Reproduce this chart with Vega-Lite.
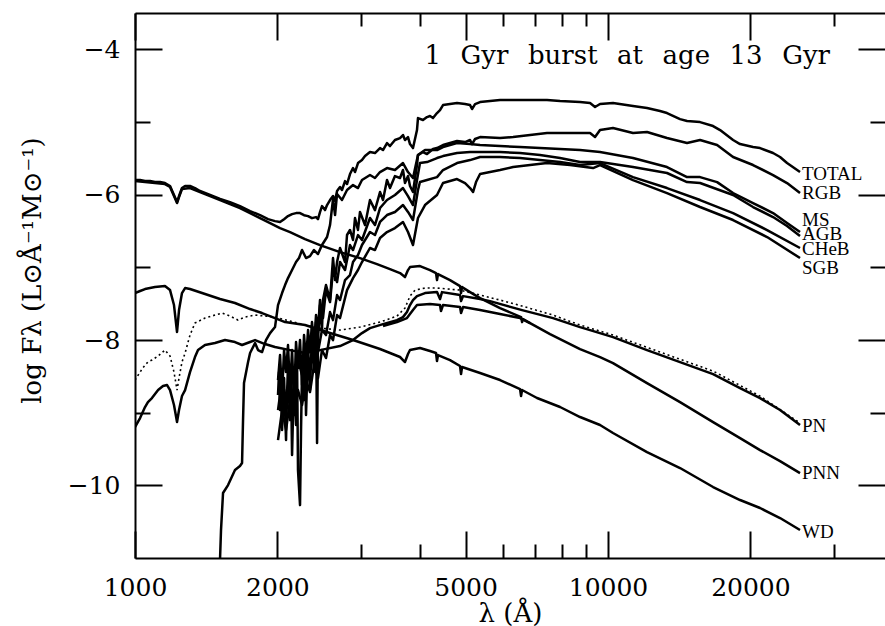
{
"$schema": "https://vega.github.io/schema/vega-lite/v6.json",
"width": 750, "height": 545,
"autosize": {"type": "none"},
"padding": {"left": 135, "top": 13, "right": 0, "bottom": 68},
"background": "white",
"config": {"view": {"stroke": null},
 "axis": {"grid": false, "labelFlush": false, "labelOverlap": false, "tickColor": "black", "domainColor": "black", "labelColor": "black", "titleColor": "black", "tickWidth": 2, "domainWidth": 2, "labelFont": "DejaVu Serif", "labelFontSize": 25, "titleFont": "DejaVu Serif", "titleFontSize": 26, "titleFontWeight": "normal"}},
"datasets": {
"spectra": [
{"s":"TOTAL","lam":1000,"logF":-5.799},{"s":"TOTAL","lam":1025,"logF":-5.799},{"s":"TOTAL","lam":1050,"logF":-5.813},{"s":"TOTAL","lam":1076,"logF":-5.813},{"s":"TOTAL","lam":1102,"logF":-5.826},{"s":"TOTAL","lam":1130,"logF":-5.826},{"s":"TOTAL","lam":1157,"logF":-5.84},{"s":"TOTAL","lam":1186,"logF":-5.881},{"s":"TOTAL","lam":1209,"logF":-6.005},{"s":"TOTAL","lam":1227,"logF":-6.102},{"s":"TOTAL","lam":1239,"logF":-6.019},{"s":"TOTAL","lam":1257,"logF":-5.909},{"s":"TOTAL","lam":1276,"logF":-5.881},{"s":"TOTAL","lam":1307,"logF":-5.881},{"s":"TOTAL","lam":1339,"logF":-5.909},{"s":"TOTAL","lam":1372,"logF":-5.95},{"s":"TOTAL","lam":1441,"logF":-6.005},{"s":"TOTAL","lam":1513,"logF":-6.06},{"s":"TOTAL","lam":1588,"logF":-6.102},{"s":"TOTAL","lam":1667,"logF":-6.157},{"s":"TOTAL","lam":1751,"logF":-6.226},{"s":"TOTAL","lam":1838,"logF":-6.282},{"s":"TOTAL","lam":1911,"logF":-6.337},{"s":"TOTAL","lam":1977,"logF":-6.364},{"s":"TOTAL","lam":2026,"logF":-6.377},{"s":"TOTAL","lam":2066,"logF":-6.337},{"s":"TOTAL","lam":2106,"logF":-6.295},{"s":"TOTAL","lam":2148,"logF":-6.268},{"s":"TOTAL","lam":2190,"logF":-6.254},{"s":"TOTAL","lam":2233,"logF":-6.254},{"s":"TOTAL","lam":2277,"logF":-6.282},{"s":"TOTAL","lam":2322,"logF":-6.295},{"s":"TOTAL","lam":2367,"logF":-6.323},{"s":"TOTAL","lam":2414,"logF":-6.309},{"s":"TOTAL","lam":2437,"logF":-6.337},{"s":"TOTAL","lam":2461,"logF":-6.24},{"s":"TOTAL","lam":2485,"logF":-6.157},{"s":"TOTAL","lam":2522,"logF":-6.212},{"s":"TOTAL","lam":2547,"logF":-6.143},{"s":"TOTAL","lam":2584,"logF":-6.074},{"s":"TOTAL","lam":2622,"logF":-6.019},{"s":"TOTAL","lam":2648,"logF":-6.088},{"s":"TOTAL","lam":2674,"logF":-5.95},{"s":"TOTAL","lam":2713,"logF":-5.895},{"s":"TOTAL","lam":2739,"logF":-5.936},{"s":"TOTAL","lam":2780,"logF":-5.813},{"s":"TOTAL","lam":2807,"logF":-5.854},{"s":"TOTAL","lam":2848,"logF":-5.716},{"s":"TOTAL","lam":2890,"logF":-5.633},{"s":"TOTAL","lam":2918,"logF":-5.689},{"s":"TOTAL","lam":2961,"logF":-5.565},{"s":"TOTAL","lam":3019,"logF":-5.524},{"s":"TOTAL","lam":3064,"logF":-5.469},{"s":"TOTAL","lam":3139,"logF":-5.414},{"s":"TOTAL","lam":3216,"logF":-5.427},{"s":"TOTAL","lam":3296,"logF":-5.359},{"s":"TOTAL","lam":3344,"logF":-5.386},{"s":"TOTAL","lam":3410,"logF":-5.29},{"s":"TOTAL","lam":3460,"logF":-5.331},{"s":"TOTAL","lam":3545,"logF":-5.248},{"s":"TOTAL","lam":3633,"logF":-5.221},{"s":"TOTAL","lam":3686,"logF":-5.179},{"s":"TOTAL","lam":3722,"logF":-5.248},{"s":"TOTAL","lam":3777,"logF":-5.207},{"s":"TOTAL","lam":3814,"logF":-5.304},{"s":"TOTAL","lam":3870,"logF":-5.359},{"s":"TOTAL","lam":3946,"logF":-5.111},{"s":"TOTAL","lam":3965,"logF":-4.946},{"s":"TOTAL","lam":4063,"logF":-4.973},{"s":"TOTAL","lam":4143,"logF":-4.932},{"s":"TOTAL","lam":4204,"logF":-4.918},{"s":"TOTAL","lam":4266,"logF":-4.946},{"s":"TOTAL","lam":4350,"logF":-4.877},{"s":"TOTAL","lam":4414,"logF":-4.836},{"s":"TOTAL","lam":4479,"logF":-4.767},{"s":"TOTAL","lam":4634,"logF":-4.753},{"s":"TOTAL","lam":4795,"logF":-4.739},{"s":"TOTAL","lam":4986,"logF":-4.753},{"s":"TOTAL","lam":5109,"logF":-4.767},{"s":"TOTAL","lam":5159,"logF":-4.822},{"s":"TOTAL","lam":5235,"logF":-4.753},{"s":"TOTAL","lam":5364,"logF":-4.726},{"s":"TOTAL","lam":5631,"logF":-4.712},{"s":"TOTAL","lam":5912,"logF":-4.698},{"s":"TOTAL","lam":6299,"logF":-4.698},{"s":"TOTAL","lam":6842,"logF":-4.698},{"s":"TOTAL","lam":7431,"logF":-4.698},{"s":"TOTAL","lam":7918,"logF":-4.712},{"s":"TOTAL","lam":8727,"logF":-4.726},{"s":"TOTAL","lam":9162,"logF":-4.739},{"s":"TOTAL","lam":9388,"logF":-4.794},{"s":"TOTAL","lam":9619,"logF":-4.753},{"s":"TOTAL","lam":10246,"logF":-4.739},{"s":"TOTAL","lam":11293,"logF":-4.781},{"s":"TOTAL","lam":12090,"logF":-4.808},{"s":"TOTAL","lam":12880,"logF":-4.849},{"s":"TOTAL","lam":13326,"logF":-4.877},{"s":"TOTAL","lam":14199,"logF":-4.96},{"s":"TOTAL","lam":14691,"logF":-4.987},{"s":"TOTAL","lam":15653,"logF":-5.001},{"s":"TOTAL","lam":16678,"logF":-5.056},{"s":"TOTAL","lam":17255,"logF":-5.111},{"s":"TOTAL","lam":18381,"logF":-5.248},{"s":"TOTAL","lam":19017,"logF":-5.304},{"s":"TOTAL","lam":20259,"logF":-5.345},{"s":"TOTAL","lam":20961,"logF":-5.359},{"s":"TOTAL","lam":22329,"logF":-5.427},{"s":"TOTAL","lam":23103,"logF":-5.482},{"s":"TOTAL","lam":23904,"logF":-5.565},{"s":"TOTAL","lam":25463,"logF":-5.689},
{"s":"PNN","lam":1000,"logF":-5.813},{"s":"PNN","lam":1050,"logF":-5.826},{"s":"PNN","lam":1102,"logF":-5.84},{"s":"PNN","lam":1157,"logF":-5.854},{"s":"PNN","lam":1186,"logF":-5.895},{"s":"PNN","lam":1209,"logF":-6.019},{"s":"PNN","lam":1227,"logF":-6.115},{"s":"PNN","lam":1239,"logF":-6.033},{"s":"PNN","lam":1257,"logF":-5.923},{"s":"PNN","lam":1307,"logF":-5.909},{"s":"PNN","lam":1372,"logF":-5.964},{"s":"PNN","lam":1441,"logF":-6.019},{"s":"PNN","lam":1513,"logF":-6.074},{"s":"PNN","lam":1588,"logF":-6.129},{"s":"PNN","lam":1667,"logF":-6.184},{"s":"PNN","lam":1751,"logF":-6.253},{"s":"PNN","lam":1838,"logF":-6.322},{"s":"PNN","lam":1930,"logF":-6.391},{"s":"PNN","lam":2026,"logF":-6.46},{"s":"PNN","lam":2127,"logF":-6.515},{"s":"PNN","lam":2288,"logF":-6.611},{"s":"PNN","lam":2461,"logF":-6.694},{"s":"PNN","lam":2713,"logF":-6.79},{"s":"PNN","lam":2990,"logF":-6.873},{"s":"PNN","lam":3248,"logF":-6.955},{"s":"PNN","lam":3460,"logF":-7.024},{"s":"PNN","lam":3633,"logF":-7.079},{"s":"PNN","lam":3722,"logF":-7.134},{"s":"PNN","lam":3777,"logF":-7.038},{"s":"PNN","lam":3814,"logF":-6.997},{"s":"PNN","lam":4004,"logF":-6.983},{"s":"PNN","lam":4204,"logF":-7.038},{"s":"PNN","lam":4329,"logF":-7.079},{"s":"PNN","lam":4350,"logF":-7.176},{"s":"PNN","lam":4371,"logF":-7.093},{"s":"PNN","lam":4634,"logF":-7.176},{"s":"PNN","lam":4866,"logF":-7.258},{"s":"PNN","lam":4890,"logF":-7.354},{"s":"PNN","lam":4914,"logF":-7.272},{"s":"PNN","lam":5109,"logF":-7.341},{"s":"PNN","lam":5364,"logF":-7.424},{"s":"PNN","lam":5912,"logF":-7.561},{"s":"PNN","lam":6549,"logF":-7.685},{"s":"PNN","lam":6581,"logF":-7.754},{"s":"PNN","lam":6613,"logF":-7.713},{"s":"PNN","lam":6842,"logF":-7.768},{"s":"PNN","lam":7541,"logF":-7.919},{"s":"PNN","lam":8727,"logF":-8.126},{"s":"PNN","lam":9619,"logF":-8.236},{"s":"PNN","lam":10246,"logF":-8.318},{"s":"PNN","lam":12090,"logF":-8.593},{"s":"PNN","lam":14199,"logF":-8.855},{"s":"PNN","lam":16678,"logF":-9.13},{"s":"PNN","lam":19017,"logF":-9.35},{"s":"PNN","lam":20961,"logF":-9.515},{"s":"PNN","lam":23103,"logF":-9.667},{"s":"PNN","lam":25463,"logF":-9.832},
{"s":"WD","lam":1000,"logF":-7.354},{"s":"WD","lam":1025,"logF":-7.326},{"s":"WD","lam":1050,"logF":-7.299},{"s":"WD","lam":1102,"logF":-7.271},{"s":"WD","lam":1157,"logF":-7.258},{"s":"WD","lam":1186,"logF":-7.313},{"s":"WD","lam":1209,"logF":-7.519},{"s":"WD","lam":1227,"logF":-7.89},{"s":"WD","lam":1239,"logF":-7.588},{"s":"WD","lam":1257,"logF":-7.354},{"s":"WD","lam":1276,"logF":-7.285},{"s":"WD","lam":1307,"logF":-7.299},{"s":"WD","lam":1386,"logF":-7.354},{"s":"WD","lam":1513,"logF":-7.436},{"s":"WD","lam":1627,"logF":-7.491},{"s":"WD","lam":1751,"logF":-7.574},{"s":"WD","lam":1856,"logF":-7.629},{"s":"WD","lam":1977,"logF":-7.698},{"s":"WD","lam":2076,"logF":-7.753},{"s":"WD","lam":2288,"logF":-7.794},{"s":"WD","lam":2584,"logF":-7.904},{"s":"WD","lam":2890,"logF":-8.0},{"s":"WD","lam":3296,"logF":-8.124},{"s":"WD","lam":3633,"logF":-8.234},{"s":"WD","lam":3722,"logF":-8.303},{"s":"WD","lam":3777,"logF":-8.193},{"s":"WD","lam":3814,"logF":-8.138},{"s":"WD","lam":4004,"logF":-8.11},{"s":"WD","lam":4204,"logF":-8.152},{"s":"WD","lam":4329,"logF":-8.179},{"s":"WD","lam":4350,"logF":-8.289},{"s":"WD","lam":4371,"logF":-8.207},{"s":"WD","lam":4634,"logF":-8.276},{"s":"WD","lam":4866,"logF":-8.358},{"s":"WD","lam":4890,"logF":-8.468},{"s":"WD","lam":4914,"logF":-8.372},{"s":"WD","lam":5364,"logF":-8.454},{"s":"WD","lam":5912,"logF":-8.551},{"s":"WD","lam":6517,"logF":-8.675},{"s":"WD","lam":6549,"logF":-8.771},{"s":"WD","lam":6581,"logF":-8.688},{"s":"WD","lam":7078,"logF":-8.798},{"s":"WD","lam":7918,"logF":-8.922},{"s":"WD","lam":8727,"logF":-9.06},{"s":"WD","lam":9619,"logF":-9.17},{"s":"WD","lam":10246,"logF":-9.28},{"s":"WD","lam":12090,"logF":-9.542},{"s":"WD","lam":14199,"logF":-9.762},{"s":"WD","lam":16678,"logF":-10.023},{"s":"WD","lam":19017,"logF":-10.202},{"s":"WD","lam":20961,"logF":-10.312},{"s":"WD","lam":23103,"logF":-10.45},{"s":"WD","lam":25463,"logF":-10.615},
{"s":"PN","lam":1000,"logF":-9.198},{"s":"PN","lam":1025,"logF":-9.074},{"s":"PN","lam":1050,"logF":-8.923},{"s":"PN","lam":1065,"logF":-8.854},{"s":"PN","lam":1086,"logF":-8.799},{"s":"PN","lam":1119,"logF":-8.689},{"s":"PN","lam":1146,"logF":-8.634},{"s":"PN","lam":1169,"logF":-8.62},{"s":"PN","lam":1186,"logF":-8.689},{"s":"PN","lam":1209,"logF":-8.895},{"s":"PN","lam":1227,"logF":-9.129},{"s":"PN","lam":1239,"logF":-8.964},{"s":"PN","lam":1257,"logF":-8.771},{"s":"PN","lam":1276,"logF":-8.689},{"s":"PN","lam":1307,"logF":-8.441},{"s":"PN","lam":1339,"logF":-8.235},{"s":"PN","lam":1359,"logF":-8.139},{"s":"PN","lam":1406,"logF":-8.069},{"s":"PN","lam":1476,"logF":-8.042},{"s":"PN","lam":1550,"logF":-8.001},{"s":"PN","lam":1627,"logF":-8.028},{"s":"PN","lam":1684,"logF":-8.069},{"s":"PN","lam":1751,"logF":-8.028},{"s":"PN","lam":1794,"logF":-8.001},{"s":"PN","lam":1883,"logF":-8.056},{"s":"PN","lam":1977,"logF":-8.097},{"s":"PN","lam":2127,"logF":-8.139},{"s":"PN","lam":2288,"logF":-8.18},{"s":"PN","lam":2461,"logF":-8.139},{"s":"PN","lam":2713,"logF":-8.083},{"s":"PN","lam":2890,"logF":-8.001},{"s":"PN","lam":3019,"logF":-7.905},{"s":"PN","lam":3139,"logF":-7.836},{"s":"PN","lam":3344,"logF":-7.781},{"s":"PN","lam":3580,"logF":-7.726},{"s":"PN","lam":3686,"logF":-7.685},{"s":"PN","lam":3758,"logF":-7.616},{"s":"PN","lam":3814,"logF":-7.52},{"s":"PN","lam":3870,"logF":-7.451},{"s":"PN","lam":3946,"logF":-7.396},{"s":"PN","lam":4103,"logF":-7.354},{"s":"PN","lam":4350,"logF":-7.341},{"s":"PN","lam":4414,"logF":-7.437},{"s":"PN","lam":4457,"logF":-7.341},{"s":"PN","lam":4866,"logF":-7.382},{"s":"PN","lam":4890,"logF":-7.465},{"s":"PN","lam":4938,"logF":-7.396},{"s":"PN","lam":5364,"logF":-7.437},{"s":"PN","lam":5631,"logF":-7.465},{"s":"PN","lam":6581,"logF":-7.589},{"s":"PN","lam":7652,"logF":-7.699},{"s":"PN","lam":8727,"logF":-7.823},{"s":"PN","lam":9162,"logF":-7.864},{"s":"PN","lam":10246,"logF":-7.96},{"s":"PN","lam":12090,"logF":-8.139},{"s":"PN","lam":14199,"logF":-8.304},{"s":"PN","lam":16678,"logF":-8.469},{"s":"PN","lam":19017,"logF":-8.662},{"s":"PN","lam":20961,"logF":-8.799},{"s":"PN","lam":23103,"logF":-8.964},{"s":"PN","lam":25463,"logF":-9.17},
{"s":"PNc","lam":3344,"logF":-7.808},{"s":"PNc","lam":3580,"logF":-7.753},{"s":"PNc","lam":3758,"logF":-7.698},{"s":"PNc","lam":3870,"logF":-7.588},{"s":"PNc","lam":3946,"logF":-7.519},{"s":"PNc","lam":4204,"logF":-7.505},{"s":"PNc","lam":4414,"logF":-7.519},{"s":"PNc","lam":4435,"logF":-7.602},{"s":"PNc","lam":4479,"logF":-7.519},{"s":"PNc","lam":4866,"logF":-7.547},{"s":"PNc","lam":4890,"logF":-7.629},{"s":"PNc","lam":4938,"logF":-7.547},{"s":"PNc","lam":5364,"logF":-7.588},{"s":"PNc","lam":5912,"logF":-7.643},{"s":"PNc","lam":6517,"logF":-7.698},{"s":"PNc","lam":6842,"logF":-7.767},
{"s":"PNdot","lam":1000,"logF":-8.551},{"s":"PNdot","lam":1025,"logF":-8.441},{"s":"PNdot","lam":1050,"logF":-8.344},{"s":"PNdot","lam":1065,"logF":-8.303},{"s":"PNdot","lam":1086,"logF":-8.276},{"s":"PNdot","lam":1119,"logF":-8.221},{"s":"PNdot","lam":1157,"logF":-8.139},{"s":"PNdot","lam":1186,"logF":-8.221},{"s":"PNdot","lam":1209,"logF":-8.441},{"s":"PNdot","lam":1227,"logF":-8.689},{"s":"PNdot","lam":1239,"logF":-8.524},{"s":"PNdot","lam":1257,"logF":-8.303},{"s":"PNdot","lam":1276,"logF":-8.18},{"s":"PNdot","lam":1307,"logF":-7.932},{"s":"PNdot","lam":1339,"logF":-7.767},{"s":"PNdot","lam":1406,"logF":-7.698},{"s":"PNdot","lam":1476,"logF":-7.657},{"s":"PNdot","lam":1527,"logF":-7.629},{"s":"PNdot","lam":1588,"logF":-7.671},{"s":"PNdot","lam":1651,"logF":-7.726},{"s":"PNdot","lam":1708,"logF":-7.684},{"s":"PNdot","lam":1794,"logF":-7.657},{"s":"PNdot","lam":1883,"logF":-7.671},{"s":"PNdot","lam":1977,"logF":-7.684},{"s":"PNdot","lam":2127,"logF":-7.739},{"s":"PNdot","lam":2288,"logF":-7.794},{"s":"PNdot","lam":2461,"logF":-7.836},{"s":"PNdot","lam":2713,"logF":-7.863},{"s":"PNdot","lam":2990,"logF":-7.822},{"s":"PNdot","lam":3296,"logF":-7.753},{"s":"PNdot","lam":3580,"logF":-7.671},{"s":"PNdot","lam":3722,"logF":-7.561},{"s":"PNdot","lam":3814,"logF":-7.396},{"s":"PNdot","lam":3908,"logF":-7.313},{"s":"PNdot","lam":4103,"logF":-7.285},{"s":"PNdot","lam":4350,"logF":-7.285},{"s":"PNdot","lam":4866,"logF":-7.313},{"s":"PNdot","lam":5364,"logF":-7.382},{"s":"PNdot","lam":5912,"logF":-7.45},{"s":"PNdot","lam":6581,"logF":-7.533},{"s":"PNdot","lam":7652,"logF":-7.657},{"s":"PNdot","lam":8727,"logF":-7.794},{"s":"PNdot","lam":10246,"logF":-7.932},{"s":"PNdot","lam":12880,"logF":-8.166},{"s":"PNdot","lam":16678,"logF":-8.428},{"s":"PNdot","lam":20961,"logF":-8.772},{"s":"PNdot","lam":25463,"logF":-9.143},
{"s":"MS","lam":1513,"logF":-11.0},{"s":"MS","lam":1520,"logF":-10.615},{"s":"MS","lam":1535,"logF":-10.106},{"s":"MS","lam":1573,"logF":-9.996},{"s":"MS","lam":1627,"logF":-9.79},{"s":"MS","lam":1667,"logF":-9.735},{"s":"MS","lam":1684,"logF":-9.693},{"s":"MS","lam":1692,"logF":-9.102},{"s":"MS","lam":1700,"logF":-8.593},{"s":"MS","lam":1734,"logF":-8.303},{"s":"MS","lam":1751,"logF":-8.179},{"s":"MS","lam":1794,"logF":-8.042},{"s":"MS","lam":1820,"logF":-8.138},{"s":"MS","lam":1856,"logF":-8.166},{"s":"MS","lam":1892,"logF":-8.001},{"s":"MS","lam":1930,"logF":-7.905},{"s":"MS","lam":1977,"logF":-7.822},{"s":"MS","lam":2006,"logF":-7.519},{"s":"MS","lam":2046,"logF":-7.354},{"s":"MS","lam":2076,"logF":-7.244},{"s":"MS","lam":2106,"logF":-7.148},{"s":"MS","lam":2148,"logF":-7.037},{"s":"MS","lam":2190,"logF":-6.927},{"s":"MS","lam":2222,"logF":-6.872},{"s":"MS","lam":2255,"logF":-6.762},{"s":"MS","lam":2299,"logF":-6.872},{"s":"MS","lam":2344,"logF":-6.845},{"s":"MS","lam":2390,"logF":-6.762},{"s":"MS","lam":2437,"logF":-6.817},{"s":"MS","lam":2485,"logF":-6.693},{"s":"MS","lam":2547,"logF":-6.583},{"s":"MS","lam":2584,"logF":-6.418},{"s":"MS","lam":2622,"logF":-6.06},{"s":"MS","lam":2648,"logF":-6.28},{"s":"MS","lam":2674,"logF":-5.99},{"s":"MS","lam":2739,"logF":-6.074},{"s":"MS","lam":2807,"logF":-5.936},{"s":"MS","lam":2890,"logF":-5.868},{"s":"MS","lam":2961,"logF":-5.909},{"s":"MS","lam":3019,"logF":-5.799},{"s":"MS","lam":3139,"logF":-5.73},{"s":"MS","lam":3216,"logF":-5.771},{"s":"MS","lam":3296,"logF":-5.689},{"s":"MS","lam":3410,"logF":-5.634},{"s":"MS","lam":3545,"logF":-5.661},{"s":"MS","lam":3686,"logF":-5.565},{"s":"MS","lam":3777,"logF":-5.689},{"s":"MS","lam":3870,"logF":-5.771},{"s":"MS","lam":3965,"logF":-5.455},{"s":"MS","lam":4103,"logF":-5.386},{"s":"MS","lam":4350,"logF":-5.386},{"s":"MS","lam":4479,"logF":-5.345},{"s":"MS","lam":4795,"logF":-5.29},{"s":"MS","lam":5109,"logF":-5.304},{"s":"MS","lam":5364,"logF":-5.317},{"s":"MS","lam":5912,"logF":-5.331},{"s":"MS","lam":6517,"logF":-5.345},{"s":"MS","lam":7182,"logF":-5.359},{"s":"MS","lam":7918,"logF":-5.372},{"s":"MS","lam":8727,"logF":-5.386},{"s":"MS","lam":9619,"logF":-5.414},{"s":"MS","lam":11293,"logF":-5.496},{"s":"MS","lam":13326,"logF":-5.62},{"s":"MS","lam":14691,"logF":-5.758},{"s":"MS","lam":15653,"logF":-5.758},{"s":"MS","lam":17006,"logF":-5.827},{"s":"MS","lam":18381,"logF":-5.978},{"s":"MS","lam":20259,"logF":-6.115},{"s":"MS","lam":22329,"logF":-6.253},{"s":"MS","lam":23904,"logF":-6.39},{"s":"MS","lam":25463,"logF":-6.514},
{"s":"RGB","lam":2006,"logF":-8.757},{"s":"RGB","lam":2016,"logF":-8.441},{"s":"RGB","lam":2026,"logF":-8.964},{"s":"RGB","lam":2036,"logF":-8.551},{"s":"RGB","lam":2046,"logF":-9.239},{"s":"RGB","lam":2066,"logF":-8.524},{"s":"RGB","lam":2086,"logF":-9.377},{"s":"RGB","lam":2096,"logF":-8.757},{"s":"RGB","lam":2106,"logF":-8.344},{"s":"RGB","lam":2127,"logF":-9.102},{"s":"RGB","lam":2137,"logF":-8.551},{"s":"RGB","lam":2148,"logF":-9.583},{"s":"RGB","lam":2169,"logF":-8.441},{"s":"RGB","lam":2190,"logF":-9.17},{"s":"RGB","lam":2201,"logF":-8.276},{"s":"RGB","lam":2211,"logF":-9.79},{"s":"RGB","lam":2233,"logF":-10.272},{"s":"RGB","lam":2244,"logF":-9.239},{"s":"RGB","lam":2255,"logF":-8.414},{"s":"RGB","lam":2277,"logF":-8.826},{"s":"RGB","lam":2288,"logF":-8.166},{"s":"RGB","lam":2299,"logF":-9.033},{"s":"RGB","lam":2322,"logF":-8.069},{"s":"RGB","lam":2344,"logF":-8.689},{"s":"RGB","lam":2367,"logF":-7.932},{"s":"RGB","lam":2390,"logF":-8.441},{"s":"RGB","lam":2414,"logF":-7.753},{"s":"RGB","lam":2426,"logF":-9.418},{"s":"RGB","lam":2437,"logF":-8.001},{"s":"RGB","lam":2461,"logF":-7.519},{"s":"RGB","lam":2485,"logF":-7.863},{"s":"RGB","lam":2497,"logF":-7.45},{"s":"RGB","lam":2534,"logF":-7.244},{"s":"RGB","lam":2584,"logF":-7.45},{"s":"RGB","lam":2622,"logF":-6.872},{"s":"RGB","lam":2648,"logF":-7.175},{"s":"RGB","lam":2674,"logF":-6.927},{"s":"RGB","lam":2713,"logF":-6.734},{"s":"RGB","lam":2780,"logF":-6.927},{"s":"RGB","lam":2807,"logF":-6.555},{"s":"RGB","lam":2848,"logF":-6.486},{"s":"RGB","lam":2890,"logF":-6.624},{"s":"RGB","lam":2918,"logF":-6.321},{"s":"RGB","lam":2961,"logF":-6.486},{"s":"RGB","lam":2990,"logF":-6.238},{"s":"RGB","lam":3064,"logF":-6.418},{"s":"RGB","lam":3139,"logF":-6.074},{"s":"RGB","lam":3216,"logF":-6.212},{"s":"RGB","lam":3296,"logF":-5.964},{"s":"RGB","lam":3344,"logF":-6.074},{"s":"RGB","lam":3410,"logF":-5.799},{"s":"RGB","lam":3460,"logF":-5.909},{"s":"RGB","lam":3545,"logF":-5.744},{"s":"RGB","lam":3633,"logF":-5.771},{"s":"RGB","lam":3686,"logF":-5.661},{"s":"RGB","lam":3722,"logF":-5.84},{"s":"RGB","lam":3777,"logF":-5.744},{"s":"RGB","lam":3814,"logF":-5.881},{"s":"RGB","lam":3870,"logF":-5.964},{"s":"RGB","lam":3946,"logF":-5.592},{"s":"RGB","lam":3965,"logF":-5.455},{"s":"RGB","lam":4063,"logF":-5.413},{"s":"RGB","lam":4143,"logF":-5.441},{"s":"RGB","lam":4266,"logF":-5.372},{"s":"RGB","lam":4350,"logF":-5.359},{"s":"RGB","lam":4479,"logF":-5.317},{"s":"RGB","lam":4795,"logF":-5.262},{"s":"RGB","lam":4986,"logF":-5.276},{"s":"RGB","lam":5109,"logF":-5.248},{"s":"RGB","lam":5159,"logF":-5.304},{"s":"RGB","lam":5235,"logF":-5.234},{"s":"RGB","lam":5364,"logF":-5.207},{"s":"RGB","lam":5912,"logF":-5.221},{"s":"RGB","lam":6299,"logF":-5.207},{"s":"RGB","lam":6842,"logF":-5.179},{"s":"RGB","lam":7431,"logF":-5.152},{"s":"RGB","lam":8727,"logF":-5.152},{"s":"RGB","lam":9162,"logF":-5.152},{"s":"RGB","lam":9388,"logF":-5.207},{"s":"RGB","lam":9619,"logF":-5.111},{"s":"RGB","lam":10246,"logF":-5.083},{"s":"RGB","lam":11293,"logF":-5.152},{"s":"RGB","lam":12090,"logF":-5.138},{"s":"RGB","lam":13326,"logF":-5.221},{"s":"RGB","lam":14691,"logF":-5.29},{"s":"RGB","lam":15653,"logF":-5.248},{"s":"RGB","lam":17006,"logF":-5.317},{"s":"RGB","lam":18381,"logF":-5.482},{"s":"RGB","lam":20259,"logF":-5.592},{"s":"RGB","lam":22329,"logF":-5.73},{"s":"RGB","lam":23904,"logF":-5.84},{"s":"RGB","lam":25463,"logF":-5.978},
{"s":"AGB","lam":2006,"logF":-8.551},{"s":"AGB","lam":2026,"logF":-8.207},{"s":"AGB","lam":2046,"logF":-8.757},{"s":"AGB","lam":2066,"logF":-8.138},{"s":"AGB","lam":2086,"logF":-8.441},{"s":"AGB","lam":2106,"logF":-8.069},{"s":"AGB","lam":2127,"logF":-8.689},{"s":"AGB","lam":2148,"logF":-8.138},{"s":"AGB","lam":2169,"logF":-8.826},{"s":"AGB","lam":2190,"logF":-8.028},{"s":"AGB","lam":2211,"logF":-8.386},{"s":"AGB","lam":2233,"logF":-8.001},{"s":"AGB","lam":2255,"logF":-8.62},{"s":"AGB","lam":2277,"logF":-7.932},{"s":"AGB","lam":2299,"logF":-8.276},{"s":"AGB","lam":2322,"logF":-7.863},{"s":"AGB","lam":2344,"logF":-8.166},{"s":"AGB","lam":2367,"logF":-7.753},{"s":"AGB","lam":2390,"logF":-8.069},{"s":"AGB","lam":2414,"logF":-7.657},{"s":"AGB","lam":2437,"logF":-7.863},{"s":"AGB","lam":2461,"logF":-7.45},{"s":"AGB","lam":2497,"logF":-7.698},{"s":"AGB","lam":2534,"logF":-7.313},{"s":"AGB","lam":2584,"logF":-7.478},{"s":"AGB","lam":2622,"logF":-7.037},{"s":"AGB","lam":2674,"logF":-7.203},{"s":"AGB","lam":2713,"logF":-6.927},{"s":"AGB","lam":2780,"logF":-7.037},{"s":"AGB","lam":2848,"logF":-6.693},{"s":"AGB","lam":2890,"logF":-6.762},{"s":"AGB","lam":2961,"logF":-6.556},{"s":"AGB","lam":3019,"logF":-6.624},{"s":"AGB","lam":3139,"logF":-6.321},{"s":"AGB","lam":3216,"logF":-6.418},{"s":"AGB","lam":3296,"logF":-6.184},{"s":"AGB","lam":3410,"logF":-6.074},{"s":"AGB","lam":3545,"logF":-6.005},{"s":"AGB","lam":3686,"logF":-5.909},{"s":"AGB","lam":3777,"logF":-6.019},{"s":"AGB","lam":3870,"logF":-6.143},{"s":"AGB","lam":3946,"logF":-5.799},{"s":"AGB","lam":4004,"logF":-5.565},{"s":"AGB","lam":4143,"logF":-5.551},{"s":"AGB","lam":4350,"logF":-5.496},{"s":"AGB","lam":4479,"logF":-5.469},{"s":"AGB","lam":4795,"logF":-5.427},{"s":"AGB","lam":5109,"logF":-5.414},{"s":"AGB","lam":5364,"logF":-5.414},{"s":"AGB","lam":5912,"logF":-5.414},{"s":"AGB","lam":6517,"logF":-5.427},{"s":"AGB","lam":7182,"logF":-5.455},{"s":"AGB","lam":7918,"logF":-5.496},{"s":"AGB","lam":8727,"logF":-5.551},{"s":"AGB","lam":9619,"logF":-5.551},{"s":"AGB","lam":11293,"logF":-5.62},{"s":"AGB","lam":13326,"logF":-5.702},{"s":"AGB","lam":14691,"logF":-5.826},{"s":"AGB","lam":15653,"logF":-5.84},{"s":"AGB","lam":18381,"logF":-6.005},{"s":"AGB","lam":20259,"logF":-6.17},{"s":"AGB","lam":22329,"logF":-6.308},{"s":"AGB","lam":23904,"logF":-6.432},{"s":"AGB","lam":25463,"logF":-6.569},
{"s":"CHeB","lam":2006,"logF":-8.964},{"s":"CHeB","lam":2046,"logF":-8.551},{"s":"CHeB","lam":2086,"logF":-8.826},{"s":"CHeB","lam":2127,"logF":-8.441},{"s":"CHeB","lam":2169,"logF":-8.62},{"s":"CHeB","lam":2211,"logF":-8.276},{"s":"CHeB","lam":2255,"logF":-8.482},{"s":"CHeB","lam":2299,"logF":-8.138},{"s":"CHeB","lam":2344,"logF":-8.345},{"s":"CHeB","lam":2390,"logF":-8.001},{"s":"CHeB","lam":2437,"logF":-8.166},{"s":"CHeB","lam":2485,"logF":-7.863},{"s":"CHeB","lam":2534,"logF":-7.932},{"s":"CHeB","lam":2584,"logF":-7.616},{"s":"CHeB","lam":2622,"logF":-7.726},{"s":"CHeB","lam":2674,"logF":-7.382},{"s":"CHeB","lam":2713,"logF":-7.45},{"s":"CHeB","lam":2780,"logF":-7.175},{"s":"CHeB","lam":2848,"logF":-7.106},{"s":"CHeB","lam":2890,"logF":-6.927},{"s":"CHeB","lam":2961,"logF":-6.831},{"s":"CHeB","lam":3019,"logF":-6.693},{"s":"CHeB","lam":3139,"logF":-6.514},{"s":"CHeB","lam":3216,"logF":-6.555},{"s":"CHeB","lam":3296,"logF":-6.376},{"s":"CHeB","lam":3410,"logF":-6.28},{"s":"CHeB","lam":3545,"logF":-6.238},{"s":"CHeB","lam":3686,"logF":-6.143},{"s":"CHeB","lam":3777,"logF":-6.238},{"s":"CHeB","lam":3870,"logF":-6.349},{"s":"CHeB","lam":3965,"logF":-5.936},{"s":"CHeB","lam":4004,"logF":-5.826},{"s":"CHeB","lam":4143,"logF":-5.799},{"s":"CHeB","lam":4350,"logF":-5.758},{"s":"CHeB","lam":4479,"logF":-5.661},{"s":"CHeB","lam":4795,"logF":-5.565},{"s":"CHeB","lam":5109,"logF":-5.524},{"s":"CHeB","lam":5364,"logF":-5.482},{"s":"CHeB","lam":5912,"logF":-5.482},{"s":"CHeB","lam":6517,"logF":-5.496},{"s":"CHeB","lam":7182,"logF":-5.524},{"s":"CHeB","lam":7918,"logF":-5.551},{"s":"CHeB","lam":8727,"logF":-5.593},{"s":"CHeB","lam":9619,"logF":-5.565},{"s":"CHeB","lam":11293,"logF":-5.758},{"s":"CHeB","lam":13326,"logF":-5.909},{"s":"CHeB","lam":15653,"logF":-6.074},{"s":"CHeB","lam":18381,"logF":-6.253},{"s":"CHeB","lam":21691,"logF":-6.487},{"s":"CHeB","lam":25463,"logF":-6.734},
{"s":"SGB","lam":2006,"logF":-9.377},{"s":"SGB","lam":2046,"logF":-8.964},{"s":"SGB","lam":2086,"logF":-9.239},{"s":"SGB","lam":2127,"logF":-8.826},{"s":"SGB","lam":2169,"logF":-9.033},{"s":"SGB","lam":2211,"logF":-8.689},{"s":"SGB","lam":2255,"logF":-8.895},{"s":"SGB","lam":2299,"logF":-8.551},{"s":"SGB","lam":2344,"logF":-8.716},{"s":"SGB","lam":2390,"logF":-8.345},{"s":"SGB","lam":2437,"logF":-8.524},{"s":"SGB","lam":2485,"logF":-8.138},{"s":"SGB","lam":2534,"logF":-8.248},{"s":"SGB","lam":2584,"logF":-7.932},{"s":"SGB","lam":2622,"logF":-8.001},{"s":"SGB","lam":2674,"logF":-7.657},{"s":"SGB","lam":2713,"logF":-7.698},{"s":"SGB","lam":2807,"logF":-7.313},{"s":"SGB","lam":2890,"logF":-7.148},{"s":"SGB","lam":2961,"logF":-7.037},{"s":"SGB","lam":3019,"logF":-6.927},{"s":"SGB","lam":3139,"logF":-6.734},{"s":"SGB","lam":3216,"logF":-6.762},{"s":"SGB","lam":3296,"logF":-6.596},{"s":"SGB","lam":3410,"logF":-6.514},{"s":"SGB","lam":3545,"logF":-6.459},{"s":"SGB","lam":3686,"logF":-6.376},{"s":"SGB","lam":3777,"logF":-6.514},{"s":"SGB","lam":3870,"logF":-6.693},{"s":"SGB","lam":3965,"logF":-6.321},{"s":"SGB","lam":4103,"logF":-6.143},{"s":"SGB","lam":4350,"logF":-6.005},{"s":"SGB","lam":4479,"logF":-5.84},{"s":"SGB","lam":4634,"logF":-5.813},{"s":"SGB","lam":4795,"logF":-5.785},{"s":"SGB","lam":4986,"logF":-5.84},{"s":"SGB","lam":5109,"logF":-5.909},{"s":"SGB","lam":5184,"logF":-5.964},{"s":"SGB","lam":5260,"logF":-5.826},{"s":"SGB","lam":5364,"logF":-5.716},{"s":"SGB","lam":5912,"logF":-5.661},{"s":"SGB","lam":6299,"logF":-5.62},{"s":"SGB","lam":6842,"logF":-5.593},{"s":"SGB","lam":7431,"logF":-5.565},{"s":"SGB","lam":8312,"logF":-5.593},{"s":"SGB","lam":9297,"logF":-5.634},{"s":"SGB","lam":9619,"logF":-5.593},{"s":"SGB","lam":11293,"logF":-5.799},{"s":"SGB","lam":13326,"logF":-5.978},{"s":"SGB","lam":15653,"logF":-6.17},{"s":"SGB","lam":18381,"logF":-6.349},{"s":"SGB","lam":21691,"logF":-6.583},{"s":"SGB","lam":25463,"logF":-6.872}
],
"labels": [
{"label":"TOTAL","lam":25463,"logF":-5.716},{"label":"RGB","lam":25463,"logF":-5.977},{"label":"MS","lam":25463,"logF":-6.349},{"label":"AGB","lam":25463,"logF":-6.541},{"label":"CHeB","lam":25463,"logF":-6.748},{"label":"SGB","lam":25463,"logF":-7.009},{"label":"PN","lam":25463,"logF":-9.184},{"label":"PNN","lam":25463,"logF":-9.83},{"label":"WD","lam":25463,"logF":-10.642}
],
"title": [{"text": "1\u2002\u2005Gyr\u2002\u2005burst\u2002\u2005at\u2002\u2005age\u2002\u200513\u2002\u2005Gyr"}]
},
"resolve": {"axis": {"x": "independent", "y": "independent"}},
"layer": [
{
 "data": {"name": "spectra"},
 "transform": [{"filter": "datum.s !== 'PNdot'"}],
 "mark": {"type": "line", "color": "black", "strokeJoin": "round", "clip": true},
 "encoding": {
  "x": {"field": "lam", "type": "quantitative", "scale": {"type": "log", "domain": [1000, 38510], "nice": false},
   "axis": {"orient": "bottom", "values": [1000, 2000, 5000, 10000, 20000], "format": "d", "tickSize": -27, "labelPadding": 44, "domain": true, "title": "λ (Å)", "titleY": 63, "titleBaseline": "alphabetic"}},
  "y": {"field": "logF", "type": "quantitative", "scale": {"domain": [-11, -3.5], "nice": false, "zero": false},
   "axis": {"orient": "left", "values": [-4, -6, -8, -10], "format": "d", "tickSize": -27, "labelPadding": 42, "domain": true, "title": "log Fλ (L⊙Å⁻¹M⊙⁻¹)", "titleX": -103, "titleY": 257, "titleBaseline": "middle", "titleAngle": -90}},
  "detail": {"field": "s"},
  "strokeWidth": {"field": "s", "type": "nominal", "legend": null,
   "scale": {"domain": ["TOTAL", "RGB", "MS", "AGB", "CHeB", "SGB", "PN", "PNc", "PNN", "WD"], "range": [2.5, 2.5, 2.5, 2.5, 2.5, 2.5, 1.7, 1.7, 1.7, 1.7]}}
 }
},
{
 "data": {"name": "spectra"},
 "transform": [{"filter": "datum.s === 'PNdot'"}],
 "mark": {"type": "line", "color": "black", "strokeWidth": 1.6, "strokeDash": [2, 3], "clip": true},
 "encoding": {
  "x": {"field": "lam", "type": "quantitative", "scale": {"type": "log", "domain": [1000, 38510], "nice": false},
   "axis": {"orient": "bottom", "values": [3000, 4000, 6000, 7000, 8000, 9000, 30000], "tickSize": -14, "labels": false, "domain": false, "title": null}},
  "y": {"field": "logF", "type": "quantitative", "scale": {"domain": [-11, -3.5], "nice": false, "zero": false},
   "axis": {"orient": "left", "values": [-5, -7, -9], "tickSize": -15, "labels": false, "domain": false, "title": null}}
 }
},
{
 "data": {"name": "labels"},
 "mark": {"type": "text", "align": "left", "baseline": "middle", "dx": 2, "font": "Liberation Serif", "fontSize": 19, "color": "black"},
 "encoding": {
  "x": {"field": "lam", "type": "quantitative", "scale": {"type": "log", "domain": [1000, 38510], "nice": false},
   "axis": {"orient": "top", "values": [1000, 2000, 5000, 10000, 20000], "tickSize": -27, "labels": false, "domain": true, "title": null}},
  "y": {"field": "logF", "type": "quantitative", "scale": {"domain": [-11, -3.5], "nice": false, "zero": false},
   "axis": {"orient": "right", "values": [-4, -6, -8, -10], "tickSize": -27, "labels": false, "domain": false, "title": null}},
  "text": {"field": "label"}
 }
},
{
 "data": {"name": "labels"},
 "mark": {"type": "point", "opacity": 0},
 "encoding": {
  "x": {"field": "lam", "type": "quantitative", "scale": {"type": "log", "domain": [1000, 38510], "nice": false},
   "axis": {"orient": "top", "values": [3000, 4000, 6000, 7000, 8000, 9000, 30000], "tickSize": -13, "labels": false, "domain": false, "title": null}},
  "y": {"field": "logF", "type": "quantitative", "scale": {"domain": [-11, -3.5], "nice": false, "zero": false},
   "axis": {"orient": "right", "values": [-5, -7, -9], "tickSize": -15, "labels": false, "domain": false, "title": null}}
 }
},
{
 "data": {"name": "title"},
 "mark": {"type": "text", "align": "right", "baseline": "alphabetic", "font": "DejaVu Serif", "fontSize": 26, "color": "black"},
 "encoding": {
  "x": {"datum": 29470, "type": "quantitative", "axis": null},
  "y": {"datum": -4.202, "type": "quantitative", "axis": null},
  "text": {"field": "text"}
 }
}
]
}
